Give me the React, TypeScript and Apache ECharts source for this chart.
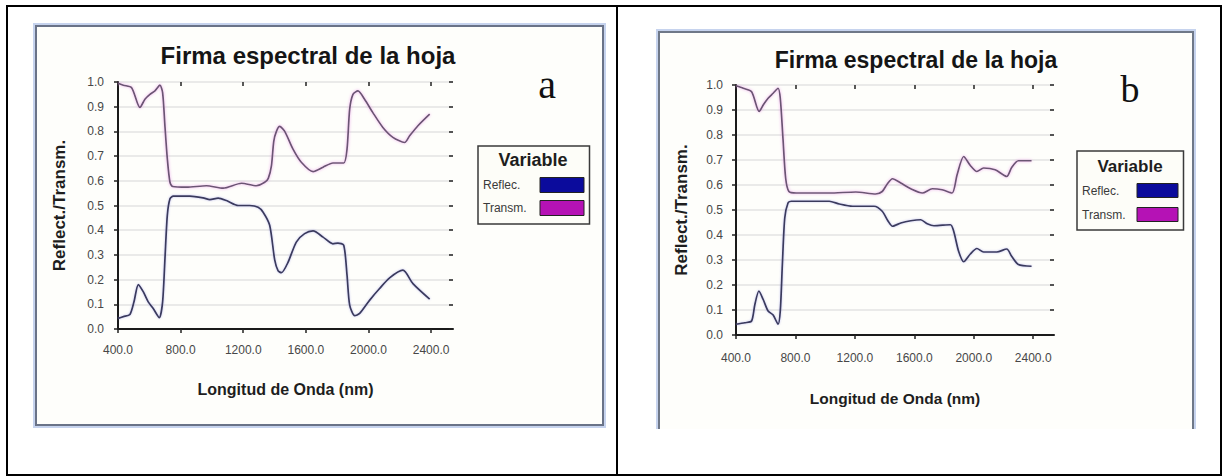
import React, { useEffect, useRef } from "react";
import * as echarts from "echarts";

// ---------- data ----------
const xTicks = [400, 800, 1200, 1600, 2000, 2400];
const seriesNames = ["Reflec.", "Transm."];
const titleText = "Firma espectral de la hoja";
const xTitle = "Longitud de Onda (nm)";
const yTitle = "Reflect./Transm.";
const legendTitle = "Variable";
const panelLetters = ["a", "b"];

// Panel a
const waveReflecA = [400, 434, 476, 502, 530, 562, 593, 625, 664, 685, 700, 715, 732, 753, 859, 944, 987, 1040, 1093, 1168, 1242, 1295, 1327, 1369, 1401, 1423, 1444, 1486, 1539, 1592, 1646, 1710, 1773, 1805, 1842, 1863, 1880, 1912, 1944, 2008, 2071, 2135, 2220, 2284, 2391];
const reflecA = [0.043, 0.05, 0.059, 0.11, 0.18, 0.15, 0.11, 0.083, 0.046, 0.11, 0.285, 0.46, 0.527, 0.538, 0.538, 0.531, 0.524, 0.53, 0.52, 0.5, 0.5, 0.493, 0.473, 0.42, 0.28, 0.235, 0.228, 0.27, 0.352, 0.386, 0.397, 0.372, 0.345, 0.348, 0.339, 0.218, 0.097, 0.054, 0.063, 0.117, 0.164, 0.207, 0.238, 0.184, 0.121];
const waveTransmA = [400, 434, 487, 540, 572, 604, 636, 668, 685, 700, 715, 732, 749, 838, 965, 1072, 1189, 1284, 1337, 1360, 1380, 1395, 1412, 1433, 1465, 1518, 1571, 1646, 1710, 1773, 1842, 1863, 1880, 1901, 1933, 1975, 2028, 2092, 2156, 2231, 2263, 2316, 2391];
const transmA = [0.995, 0.987, 0.977, 0.897, 0.93, 0.95, 0.964, 0.987, 0.957, 0.82, 0.69, 0.594, 0.577, 0.574, 0.58, 0.57, 0.59, 0.58, 0.594, 0.61, 0.66, 0.76, 0.8, 0.82, 0.8, 0.728, 0.675, 0.637, 0.655, 0.672, 0.672, 0.728, 0.89, 0.95, 0.964, 0.93, 0.876, 0.816, 0.776, 0.755, 0.782, 0.823, 0.87];

// Panel b
const waveReflecB = [400, 460, 505, 527, 554, 583, 616, 650, 683, 698, 712, 728, 750, 772, 1028, 1095, 1184, 1329, 1384, 1424, 1453, 1509, 1576, 1643, 1687, 1732, 1843, 1865, 1898, 1932, 1977, 2021, 2066, 2155, 2222, 2255, 2300, 2389];
const reflecB = [0.043, 0.049, 0.056, 0.122, 0.176, 0.142, 0.096, 0.08, 0.043, 0.096, 0.282, 0.468, 0.528, 0.535, 0.535, 0.524, 0.515, 0.515, 0.495, 0.455, 0.435, 0.448, 0.457, 0.461, 0.445, 0.437, 0.441, 0.415, 0.335, 0.293, 0.324, 0.346, 0.332, 0.332, 0.344, 0.315, 0.282, 0.275];
const waveTransmB = [400, 449, 505, 556, 583, 616, 650, 683, 698, 716, 734, 756, 805, 1028, 1206, 1340, 1384, 1418, 1453, 1509, 1576, 1654, 1721, 1787, 1854, 1888, 1932, 1977, 2021, 2066, 2144, 2222, 2255, 2300, 2389];
const transmB = [0.997, 0.987, 0.973, 0.894, 0.92, 0.947, 0.967, 0.987, 0.947, 0.787, 0.628, 0.574, 0.568, 0.568, 0.572, 0.564, 0.574, 0.604, 0.625, 0.608, 0.585, 0.568, 0.585, 0.581, 0.568, 0.641, 0.714, 0.678, 0.654, 0.668, 0.661, 0.634, 0.67, 0.697, 0.697];

// ---------- helpers ----------
const SANS = '"Liberation Sans", Arial, Helvetica, sans-serif';
const SERIF = '"Liberation Serif", "Times New Roman", serif';

const zip = (w: number[], v: number[]) => w.map((x, i) => [x, v[i]]);

type PanelCfg = {
  grid: { left: number; top: number; width: number; height: number };
  labelMarginX: number;
  labelMarginY: number;
  xNameGap: number;
  yNameGap: number;
  xNameSize: number;
  yNameSize: number;
};

const panels: PanelCfg[] = [
  { grid: { left: 118, top: 82, width: 335, height: 247 }, labelMarginX: 15, labelMarginY: 14, xNameGap: 52, yNameGap: 50, xNameSize: 16, yNameSize: 17 },
  { grid: { left: 736, top: 85, width: 318, height: 250 }, labelMarginX: 17, labelMarginY: 13, xNameGap: 55, yNameGap: 46, xNameSize: 15.5, yNameSize: 17 },
];

function buildOption() {
  const grids: any[] = [];
  const xAxes: any[] = [];
  const yAxes: any[] = [];
  panels.forEach((p, i) => {
    grids.push({ ...p.grid, containLabel: false });
    xAxes.push({
      type: "value",
      gridIndex: i,
      min: 400,
      max: 2540,
      name: xTitle,
      nameLocation: "middle",
      nameGap: p.xNameGap,
      nameTextStyle: { fontFamily: SANS, fontWeight: "bold", fontSize: p.xNameSize, color: "#1e1e1e" },
      axisLine: { show: true, onZero: false, lineStyle: { color: "#1a1a1a", width: 2 } },
      axisTick: { show: true, customValues: xTicks, length: 4, lineStyle: { color: "#222", width: 1.5 } },
      axisLabel: {
        customValues: xTicks,
        formatter: (v: number) => v.toFixed(1),
        margin: p.labelMarginX,
        fontFamily: SANS,
        fontSize: 12,
        color: "#474747",
      },
      splitLine: { show: false },
    });
    xAxes.push({
      type: "value",
      gridIndex: i,
      min: 400,
      max: 2540,
      axisLine: { show: false, onZero: false },
      axisTick: { show: true, inside: true, customValues: xTicks, length: 4, lineStyle: { color: "#222", width: 1.5 } },
      axisLabel: { show: false },
      splitLine: { show: false },
    });
    yAxes.push({
      type: "value",
      gridIndex: i,
      min: 0,
      max: 1,
      interval: 0.1,
      name: yTitle,
      nameLocation: "middle",
      nameGap: p.yNameGap,
      nameTextStyle: { fontFamily: SANS, fontWeight: "bold", fontSize: p.yNameSize, color: "#1e1e1e" },
      axisLine: { show: true, onZero: false, lineStyle: { color: "#1a1a1a", width: 2 } },
      axisTick: { show: true, length: 4, lineStyle: { color: "#222", width: 1.5 } },
      axisLabel: {
        formatter: (v: number) => v.toFixed(1),
        margin: p.labelMarginY,
        fontFamily: SANS,
        fontSize: 12,
        color: "#474747",
      },
      splitLine: { show: true, lineStyle: { color: "#e3e3e3", width: 1.6 } },
    });
    yAxes.push({
      type: "value",
      gridIndex: i,
      min: 0,
      max: 1,
      interval: 0.1,
      axisLine: { show: false, onZero: false },
      axisTick: { show: true, inside: true, length: 4, lineStyle: { color: "#222", width: 1.5 } },
      axisLabel: { show: false },
      splitLine: { show: false },
    });
  });

  const reflecStyle = { color: "#3a3a5c", width: 1.7, shadowColor: "rgba(120,120,220,0.45)", shadowBlur: 2 };
  const transmStyle = { color: "#6a5673", width: 1.7, shadowColor: "rgba(230,140,230,0.75)", shadowBlur: 3 };

  const mk = (name: string, data: number[][], axis: number, style: any) => ({
    type: "line",
    name,
    xAxisIndex: axis,
    yAxisIndex: axis,
    data,
    showSymbol: false,
    symbol: "none",
    smooth: 0.25,
    lineStyle: style,
    itemStyle: { color: style.color },
    z: 3,
  });

  const series = [
    mk(seriesNames[0], zip(waveReflecA, reflecA), 0, reflecStyle),
    mk(seriesNames[1], zip(waveTransmA, transmA), 0, transmStyle),
    mk(seriesNames[0], zip(waveReflecB, reflecB), 2, reflecStyle),
    mk(seriesNames[1], zip(waveTransmB, transmB), 2, transmStyle),
  ];

  const legendBase = (left: number, top: number, iw: number, ih: number, gap: number, padTop: number, textW: number) => ({
    orient: "vertical",
    left,
    top,
    padding: [padTop, 5, 8, 5],
    itemWidth: iw,
    itemHeight: ih,
    itemGap: gap,
    align: "right",
    icon: "rect",
    selectedMode: false,
    borderColor: "#3a3a3a",
    borderWidth: 1.5,
    backgroundColor: "#fdfdf8",
    formatter: (n: string) => `{t|${n}}`,
    textStyle: {
      fontFamily: SANS,
      fontSize: 12,
      color: "#3a3a3a",
      rich: { t: { width: textW, align: "left", fontFamily: SANS, fontSize: 12, color: "#3a3a3a" } },
    },
    data: [
      { name: seriesNames[0], itemStyle: { color: "#0b0b9c", borderColor: "#222", borderWidth: 1 } },
      { name: seriesNames[1], itemStyle: { color: "#b512b5", borderColor: "#222", borderWidth: 1 } },
    ],
  });

  const legends = [
    legendBase(478, 146, 44, 15, 7, 31, 52),
    legendBase(1077, 151, 41, 14, 9, 32, 50),
  ];

  const graphic: any[] = [
    // table borders
    { type: "rect", z: -5, shape: { x: 7, y: 6, width: 1214, height: 469 }, style: { fill: "none", stroke: "#000", lineWidth: 2 } },
    { type: "line", z: -5, shape: { x1: 617, y1: 6, x2: 617, y2: 475 }, style: { stroke: "#000", lineWidth: 2 } },
    // chart a frame
    { type: "rect", z: -10, shape: { x: 36, y: 26, width: 567, height: 399 }, style: { fill: "#fefefb" } },
    { type: "rect", z: -4, shape: { x: 34, y: 24, width: 571, height: 403 }, style: { fill: "none", stroke: "#c6d3ee", lineWidth: 2 } },
    { type: "rect", z: -4, shape: { x: 36, y: 26, width: 567, height: 399 }, style: { fill: "none", stroke: "#6a7388", lineWidth: 2 } },
    // chart b frame
    { type: "rect", z: -10, shape: { x: 659, y: 32, width: 534, height: 397 }, style: { fill: "#fefefb" } },
    { type: "polyline", z: -4, shape: { points: [[657, 429], [657, 30], [1195, 30], [1195, 429]] }, style: { fill: "none", stroke: "#c6d3ee", lineWidth: 2 } },
    { type: "polyline", z: -4, shape: { points: [[659, 429], [659, 32], [1193, 32], [1193, 429]] }, style: { fill: "none", stroke: "#6f7888", lineWidth: 2 } },
    // titles
    { type: "text", x: 308, y: 55, style: { text: titleText, fontFamily: SANS, fontWeight: "bold", fontSize: 24, fill: "#151515", align: "center", verticalAlign: "middle" } },
    { type: "text", x: 916, y: 60, style: { text: titleText, fontFamily: SANS, fontWeight: "bold", fontSize: 23, fill: "#151515", align: "center", verticalAlign: "middle" } },
    // panel letters
    { type: "text", x: 547, y: 84, style: { text: panelLetters[0], fontFamily: SERIF, fontSize: 40, fill: "#111", align: "center", verticalAlign: "middle" } },
    { type: "text", x: 1130, y: 89, style: { text: panelLetters[1], fontFamily: SERIF, fontSize: 38, fill: "#111", align: "center", verticalAlign: "middle" } },
    // legend titles
    { type: "text", x: 533, y: 160, z: 10, style: { text: legendTitle, fontFamily: SANS, fontWeight: "bold", fontSize: 18, fill: "#1e1e1e", align: "center", verticalAlign: "middle" } },
    { type: "text", x: 1130, y: 166, z: 10, style: { text: legendTitle, fontFamily: SANS, fontWeight: "bold", fontSize: 17, fill: "#1e1e1e", align: "center", verticalAlign: "middle" } },
  ];

  return {
    animation: false,
    backgroundColor: "#ffffff",
    grid: grids,
    xAxis: xAxes,
    yAxis: yAxes,
    series,
    legend: legends,
    graphic,
  };
}

export default function App() {
  const ref = useRef<HTMLDivElement | null>(null);
  useEffect(() => {
    if (!ref.current) return;
    const chart = echarts.init(ref.current, undefined, { renderer: "svg" });
    chart.setOption(buildOption() as any);
    return () => chart.dispose();
  }, []);
  return (
    <div
      ref={ref}
      style={{ position: "absolute", left: 0, top: 0, width: 1225, height: 476, background: "#fff" }}
    />
  );
}
